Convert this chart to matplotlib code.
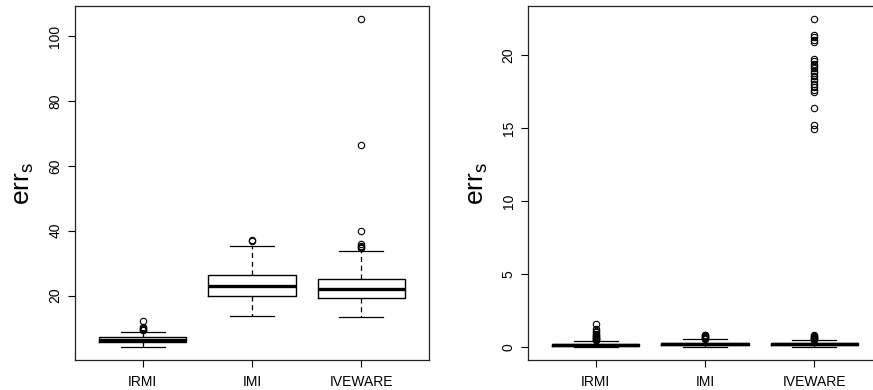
import numpy as np
import matplotlib.pyplot as plt

plt.rcParams['font.family'] = ['Liberation Sans', 'DejaVu Sans']

methods = ["IRMI", "IMI", "IVEWARE"]

# left panel: box statistics
left_q1 = [5.7, 20.0, 19.3]
left_med = [6.4, 22.9, 21.9]
left_q3 = [7.1, 26.4, 25.2]
left_lo = [4.2, 13.6, 13.5]
left_hi = [8.9, 35.4, 33.8]
left_out = [
    [9.3, 9.5, 9.7, 9.9, 10.2, 12.1],
    [36.7, 37.2],
    [34.6, 35.0, 35.3, 36.0, 40.0, 66.3, 105.2],
]
left_ticks = [20, 40, 60, 80, 100]

# right panel
right_q1 = [0.08, 0.12, 0.12]
right_med = [0.14, 0.20, 0.19]
right_q3 = [0.20, 0.27, 0.26]
right_lo = [0.01, 0.02, 0.02]
right_hi = [0.40, 0.52, 0.46]
right_out = [
    [0.45, 0.5, 0.55, 0.6, 0.65, 0.7, 0.75, 0.8, 0.9, 1.0, 1.1, 1.25, 1.6],
    [0.55, 0.6, 0.65, 0.7, 0.75, 0.8, 0.85],
    [0.5, 0.55, 0.6, 0.65, 0.7, 0.75, 0.8,
     14.9, 15.2, 16.4, 17.45, 17.63, 17.82, 18.04, 18.25, 18.39, 18.59,
     18.77, 18.93, 19.11, 19.27, 19.41, 19.57, 19.73, 20.86, 21.0, 21.21,
     21.34, 22.46],
]
right_ticks = [0, 5, 10, 15, 20]


def draw_panel(ax, q1, med, q3, lo, hi, out, ticks):
    stats = []
    for i in range(len(methods)):
        stats.append(dict(label=methods[i], q1=q1[i], med=med[i], q3=q3[i],
                          whislo=lo[i], whishi=hi[i], fliers=out[i]))
    ax.bxp(stats, positions=[1, 2, 3], widths=0.8, showfliers=True,
           boxprops=dict(color='black', linewidth=1.0),
           medianprops=dict(color='black', linewidth=2.4, solid_capstyle='butt'),
           whiskerprops=dict(color='black', linewidth=0.9, linestyle=(0, (4, 3))),
           capprops=dict(color='black', linewidth=0.9),
           capwidths=0.4,
           flierprops=dict(marker='o', markersize=4.6, markerfacecolor='none',
                           markeredgecolor='black', markeredgewidth=0.8))
    lo_all = min(min(lo), min(min(o) for o in out))
    hi_all = max(max(hi), max(max(o) for o in out))
    pad = 0.04 * (hi_all - lo_all)
    ax.set_ylim(lo_all - pad, hi_all + pad)
    ax.set_xlim(0.5 - 0.12, 3.5 + 0.12)
    ax.set_yticks(ticks)
    ax.set_yticklabels([str(t) for t in ticks])
    ax.tick_params(axis='y', labelrotation=90, length=5, width=0.8, pad=4, labelsize=10)
    ax.tick_params(axis='x', length=5, width=0.8, pad=6, labelsize=10)
    for lab in ax.get_yticklabels():
        lab.set_va('center')
    for sp in ax.spines.values():
        sp.set_color('#222222')
        sp.set_linewidth(0.9)


fig = plt.figure(figsize=(8.73, 3.9), dpi=100)
ax1 = fig.add_axes([75 / 873, 30 / 390, 354 / 873, 354 / 390])
ax2 = fig.add_axes([528 / 873, 30 / 390, 354 / 873, 354 / 390])

draw_panel(ax1, left_q1, left_med, left_q3, left_lo, left_hi, left_out, left_ticks)
draw_panel(ax2, right_q1, right_med, right_q3, right_lo, right_hi, right_out, right_ticks)

ax1.set_ylabel(r'$\mathregular{err_s}$', fontsize=19, va='center')
ax1.yaxis.set_label_coords(-0.145, 0.5)
ax2.set_ylabel(r'$\mathregular{err_s}$', fontsize=19, va='center')
ax2.yaxis.set_label_coords(-0.14, 0.5)

fig.savefig('out.png', dpi=100)
